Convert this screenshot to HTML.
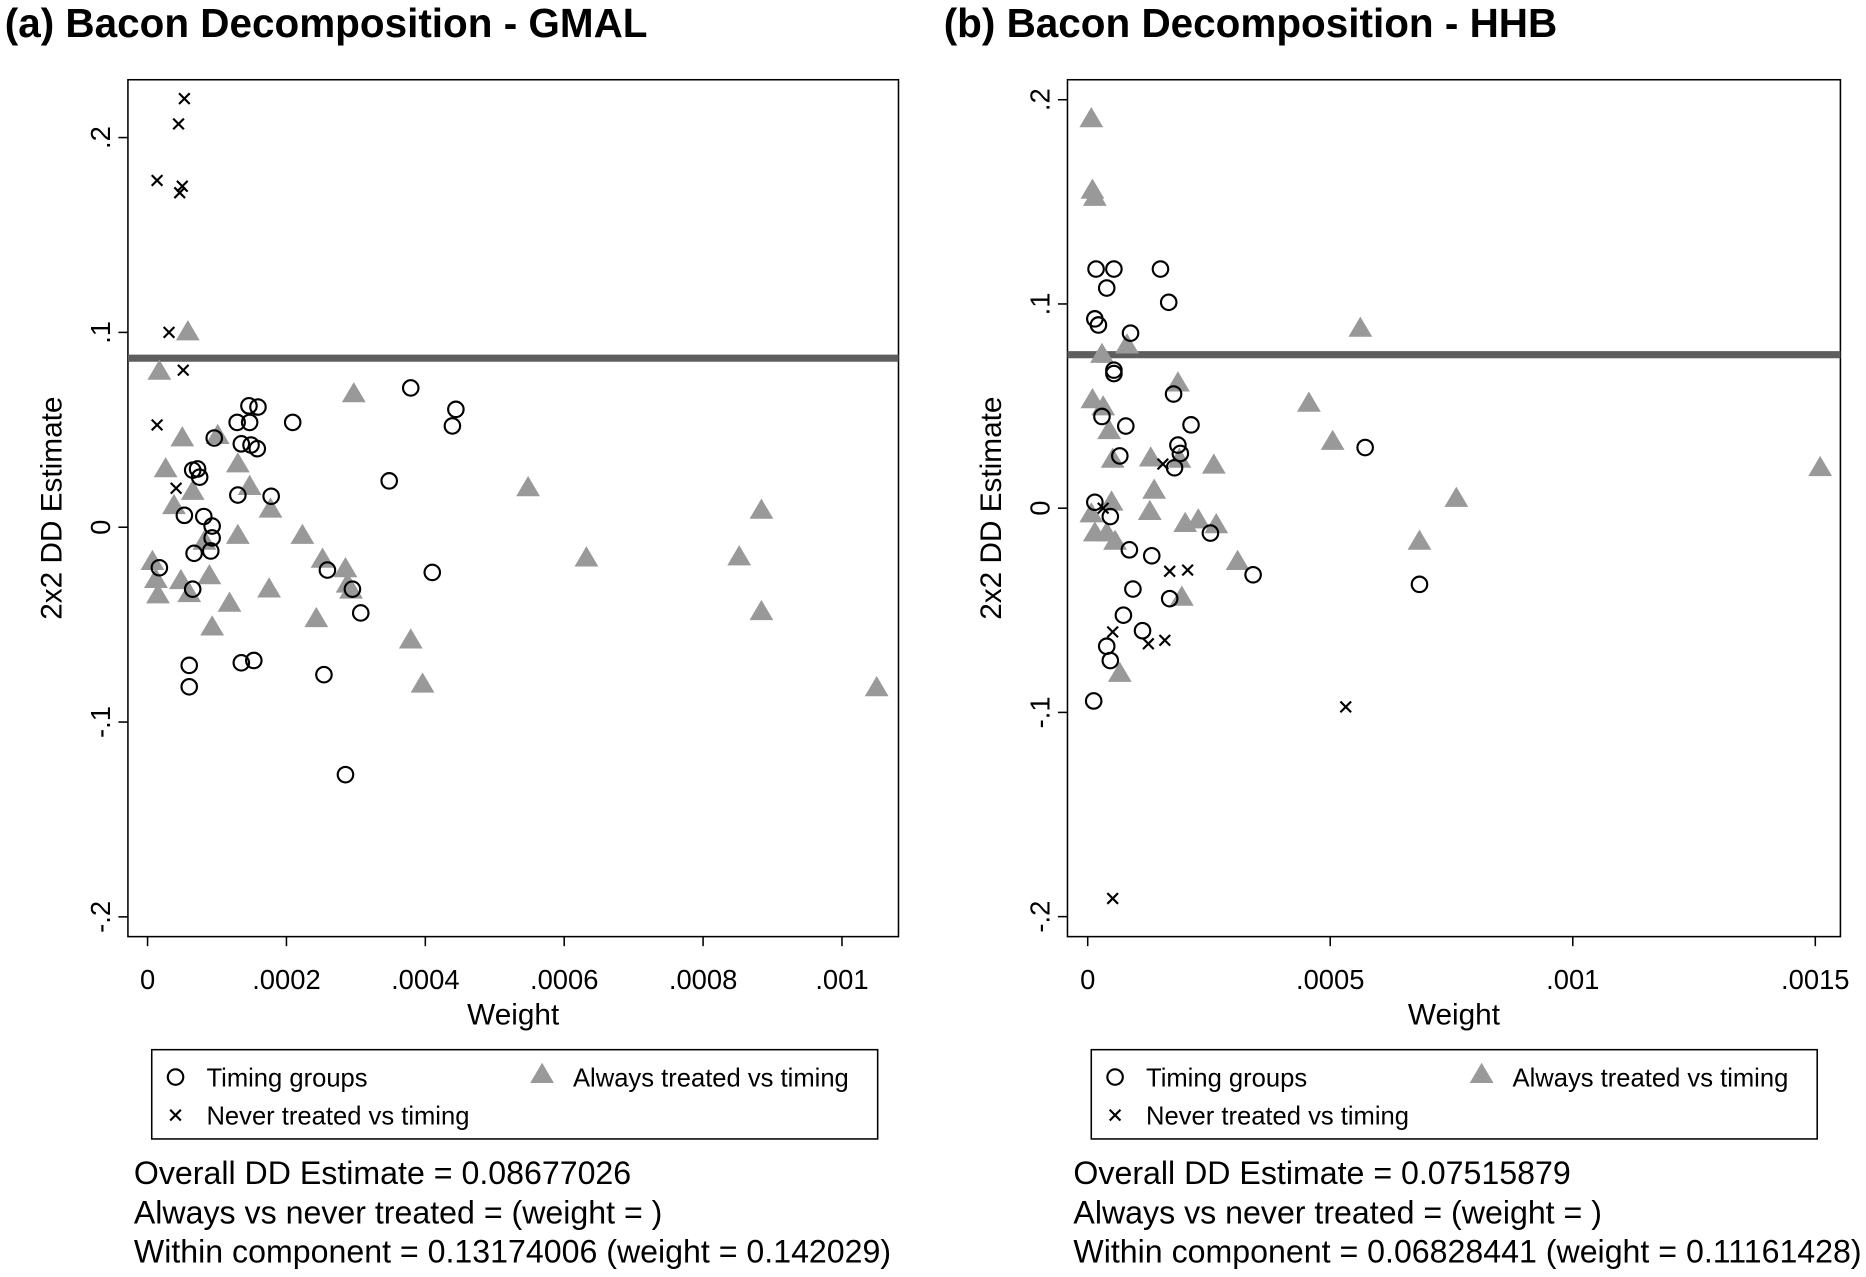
<!DOCTYPE html>
<html><head><meta charset="utf-8"><style>
html,body{margin:0;padding:0;background:#fff;}
svg{display:block;font-family:"Liberation Sans",Arial,sans-serif;}
</style></head><body>
<svg id="fig" width="1866" height="1277" viewBox="0 0 1568 1073" preserveAspectRatio="none">
<rect x="0" y="0" width="1568" height="1073" fill="#fff"/>
<g id="pa"></g>
<g id="pb"></g>
</svg>
<script>
// Panel A data (weight, estimate)
const aTimingW=[.000147,.000129,.000149,.000135,.000158,.000209,.000159,.000146,.00013,.000178,.000096,.000065,.000072,.000075,.000053,.000081,.000093,.000093,.000067,.000091,.000017,.000065,.000259,.000295,.000307,.000348,.000379,.000444,.000439,.00041,.00006,.00006,.000135,.000153,.000254,.000285];
const aTimingY=[.0538,.0538,.0422,.0428,.0403,.0538,.0617,.0623,.0165,.0159,.0458,.0293,.0299,.0257,.0061,.0055,.0006,-.0055,-.0134,-.0122,-.0208,-.0318,-.022,-.0318,-.044,.0238,.0715,.0605,.052,-.0232,-.0709,-.0819,-.0696,-.0684,-.0757,-.127];
const aNeverW=[.000053,.0000446,.0000137,.00005,.0000463,.0000309,.0000514,.0000137,.0000411];
const aNeverY=[.22,.207,.178,.175,.1717,.100,.0806,.0525,.020];
const aAlwaysW=[.000058,.000017,.00005,.000101,.000026,.00013,.000038,.000147,.000065,.000177,.00013,.000007,.000012,.000015,.000048,.00006,.000089,.000093,.000118,.000175,.000223,.000252,.000243,.000285,.000288,.000293,.000297,.000379,.000396,.000548,.000632,.000852,.000884,.000884,.00105,.000082];
const aAlwaysY=[.1002,.08,.0458,.047,.0299,.0324,.011,.0208,.0183,.0092,-.0043,-.0177,-.0269,-.0348,-.0275,-.0342,-.025,-.0513,-.0391,-.0318,-.0043,-.0165,-.047,-.0214,-.0293,-.0324,.0684,-.058,-.0806,.0202,-.0159,-.0153,.0086,-.0434,-.0825,-.0073];
const aOverall=0.08677026;
const aXTicks=[0,.0002,.0004,.0006,.0008,.001];
const aXLabels=["0",".0002",".0004",".0006",".0008",".001"];
const aYTicks=[.2,.1,0,-.1,-.2];
const aYLabels=[".2",".1","0","-.1","-.2"];
// Panel B data
const bTimingW=[.0000172,.000054,.00015,.0000392,.0000147,.0000221,.0000883,.000167,.000054,.000054,.0000294,.0000785,.0000662,.000177,.000213,.000186,.000191,.000179,.0000147,.0000466,.0000932,.0000736,.0000392,.0000466,.0000123,.000113,.000169,.000253,.000341,.000572,.000684,.0000859,.000132];
const bTimingY=[.1171,.1171,.1171,.1078,.0927,.0897,.0857,.1008,.0676,.0659,.0449,.0402,.0256,.0559,.0408,.0309,.0268,.0198,.0029,-.0041,-.0396,-.0524,-.0676,-.0746,-.0944,-.06,-.0443,-.0122,-.0326,.0297,-.0373,-.0204,-.0233];
const bNeverW=[.000155,.0000319,.0000515,.000125,.000159,.000169,.000206,.000532,.0000515];
const bNeverY=[.0216,0,-.0606,-.0664,-.0647,-.0309,-.0303,-.0973,-.1911];
const bAlwaysW=[.0000074,.0000098,.0000147,.0000294,.000081,.0000098,.0000319,.0000442,.0000515,.0000074,.0000147,.0000392,.0000564,.0000491,.000186,.00013,.000137,.000128,.000189,.000201,.000194,.000228,.00026,.000265,.000309,.000456,.000505,.000562,.000684,.00076,.00151,.0000662];
const bAlwaysY=[.1906,.1556,.1521,.0752,.0798,.053,.0495,.0379,.0239,-.0029,-.0122,-.0122,-.0163,.0029,.0612,.0245,.0087,-.0017,.0239,-.0076,-.0437,-.0058,.021,-.0082,-.0262,.0513,.0326,.088,-.0163,.0047,.0198,-.081];
const bOverall=0.07515879;
const bXTicks=[0,.0005,.001,.0015];
const bXLabels=["0",".0005",".001",".0015"];
const bYTicks=[.2,.1,0,-.1,-.2];
const bYLabels=[".2",".1","0","-.1","-.2"];

const NS="http://www.w3.org/2000/svg";
function mk(parent,tag,attrs,txt){const e=document.createElementNS(NS,tag);for(const k in attrs)e.setAttribute(k,attrs[k]);if(txt!==undefined)e.textContent=txt;parent.appendChild(e);return e;}

function panel(g,cfg){
  const sx=w=>cfg.x0+w*cfg.xs, sy=v=>cfg.y0-v*cfg.ys;
  const t=mk(g,'text',{x:cfg.titleX,y:31,'font-size':34,'font-weight':'bold',fill:'#000'},cfg.title);
  
  
  const fr=mk(g,'rect',{x:cfg.L,y:67,width:cfg.R-cfg.L,height:720,fill:'none',stroke:'#000','stroke-width':1.3});
  
  
  cfg.yt.forEach((v,i)=>{
    const y=sy(v);
    mk(g,'line',{x1:cfg.L-8,x2:cfg.L,y1:y,y2:y,stroke:'#000','stroke-width':1.3});
    const tl=mk(g,'text',{x:0,y:0,transform:`translate(${cfg.L-15},${y}) rotate(-90)`,'text-anchor':'middle','font-size':23,fill:'#000'},cfg.yl[i]);
    
    
  });
  cfg.xt.forEach((v,i)=>{
    const x=sx(v);
    mk(g,'line',{x1:x,x2:x,y1:787,y2:795,stroke:'#000','stroke-width':1.3});
    const tl=mk(g,'text',{x:x,y:831,'text-anchor':'middle','font-size':23,fill:'#000'},cfg.xl[i]);
    
    
  });
  const yt=mk(g,'text',{transform:`translate(${cfg.L-56},427) rotate(-90)`,'text-anchor':'middle','font-size':25,fill:'#000'},'2x2 DD Estimate');
  
  
  const xt=mk(g,'text',{x:(cfg.L+cfg.R)/2,y:861,'text-anchor':'middle','font-size':25,fill:'#000'},'Weight');
  
  
  const ol=mk(g,'line',{x1:cfg.L,x2:cfg.R,y1:sy(cfg.overall),y2:sy(cfg.overall),stroke:'#5e5e5e','stroke-width':6});
  
  
  cfg.aw.forEach((w,i)=>{const x=sx(w),y=sy(cfg.ay[i]);
    const p=mk(g,'polygon',{points:`${x},${y-10} ${x-10},${y+7} ${x+10},${y+7}`,fill:'#999'});
    
    });
  cfg.tw.forEach((w,i)=>{
    const c=mk(g,'circle',{cx:sx(w),cy:sy(cfg.ty[i]),r:6.5,fill:'none',stroke:'#000','stroke-width':1.8});
    
    });
  cfg.nw.forEach((w,i)=>{const x=sx(w),y=sy(cfg.ny[i]);
    const p=mk(g,'path',{d:`M${x-4.5},${y-4.5}L${x+4.5},${y+4.5}M${x-4.5},${y+4.5}L${x+4.5},${y-4.5}`,stroke:'#000','stroke-width':1.8});
    
    });
  const lg=mk(g,'g',{});
  
  
  const lx=cfg.L+20;
  mk(lg,'rect',{x:lx,y:882,width:610,height:75,fill:'none',stroke:'#000','stroke-width':1.3});
  mk(lg,'circle',{cx:lx+20,cy:905,r:6.5,fill:'none',stroke:'#000','stroke-width':1.8});
  mk(lg,'text',{x:lx+46,y:913,'font-size':21.5},'Timing groups');
  mk(lg,'path',{d:`M${lx+15.5},${932.5}l9,9m-9,0l9,-9`,stroke:'#000','stroke-width':1.8});
  mk(lg,'text',{x:lx+46,y:945,'font-size':21.5},'Never treated vs timing');
  mk(lg,'polygon',{points:`${lx+328},${893} ${lx+318},${910} ${lx+338},${910}`,fill:'#999'});
  mk(lg,'text',{x:lx+354,y:913,'font-size':21.5},'Always treated vs timing');
  const nt=mk(g,'g',{'font-size':27});
  
  
  cfg.notes.forEach((s,i)=>mk(nt,'text',{x:cfg.L+5,y:995+i*33},s));
}
panel(document.getElementById('pa'),{title:'(a) Bacon Decomposition - GMAL',titleX:4,L:107.5,R:755,x0:124,xs:116.7/0.0002,y0:443,ys:1637,
 xt:aXTicks,xl:aXLabels,yt:aYTicks,yl:aYLabels,overall:aOverall,tw:aTimingW,ty:aTimingY,nw:aNeverW,ny:aNeverY,aw:aAlwaysW,ay:aAlwaysY,
 notes:['Overall DD Estimate = 0.08677026','Always vs never treated =  (weight = )','Within component = 0.13174006 (weight = 0.142029)']});
panel(document.getElementById('pb'),{title:'(b) Bacon Decomposition - HHB',titleX:793,L:897,R:1546.5,x0:914,xs:203.8/0.0005,y0:427,ys:1716,
 xt:bXTicks,xl:bXLabels,yt:bYTicks,yl:bYLabels,overall:bOverall,tw:bTimingW,ty:bTimingY,nw:bNeverW,ny:bNeverY,aw:bAlwaysW,ay:bAlwaysY,
 notes:['Overall DD Estimate = 0.07515879','Always vs never treated =  (weight = )','Within component = 0.06828441 (weight = 0.11161428)']});
</script>
</body></html>
